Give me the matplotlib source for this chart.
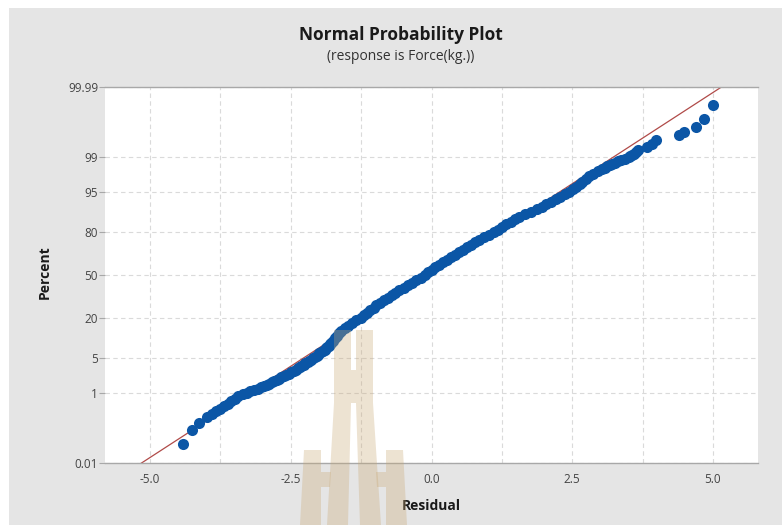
import math
from statistics import NormalDist

import numpy as np
import matplotlib
matplotlib.use("Agg")
import matplotlib.pyplot as plt
from matplotlib.patches import Rectangle, Polygon
from matplotlib.ticker import MultipleLocator, FixedLocator, FixedFormatter

plt.rcParams['font.family'] = ['Open Sans', 'DejaVu Sans']

# residuals and their plotted percent
residual = [
    -4.42, -4.26, -4.13, -3.99, -3.90, -3.82, -3.75, -3.69, -3.62, -3.56,
    -3.49, -3.43, -3.345, -3.28, -3.22, -3.16, -3.09, -3.03, -2.97, -2.93,
    -2.88, -2.84, -2.79, -2.75, -2.71, -2.665, -2.62, -2.58, -2.53, -2.49,
    -2.45, -2.41, -2.38, -2.34, -2.31, -2.27, -2.24, -2.20, -2.17, -2.135,
    -2.10, -2.07, -2.04, -2.015, -1.99, -1.96, -1.93, -1.90, -1.88, -1.85,
    -1.82, -1.80, -1.78, -1.75, -1.715, -1.68, -1.65, -1.60, -1.54, -1.48,
    -1.41, -1.34, -1.26, -1.20, -1.15, -1.09, -1.03, -0.98, -0.92, -0.85,
    -0.78, -0.71, -0.64, -0.57, -0.495, -0.42, -0.345, -0.27, -0.195, -0.12,
    -0.06, 0.00, 0.07, 0.13, 0.20, 0.27, 0.34, 0.41, 0.49, 0.56,
    0.63, 0.70, 0.78, 0.85, 0.94, 1.03, 1.11, 1.18, 1.26, 1.33,
    1.41, 1.48, 1.56, 1.66, 1.77, 1.87, 1.96, 2.04, 2.12, 2.21,
    2.29, 2.37, 2.45, 2.52, 2.575, 2.63, 2.68, 2.74, 2.79, 2.87,
    2.95, 3.03, 3.075, 3.12, 3.17, 3.215, 3.26, 3.31, 3.37, 3.43,
    3.50, 3.53, 3.56, 3.59, 3.63, 3.67, 3.82, 3.92, 3.99, 4.40,
    4.49, 4.69, 4.84, 5.00,
]
percent = [
    0.040, 0.107, 0.169, 0.256, 0.298, 0.347, 0.402, 0.466, 0.539, 0.621,
    0.714, 0.820, 0.939, 1.004, 1.072, 1.147, 1.222, 1.306, 1.390, 1.484,
    1.578, 1.68, 1.786, 1.90, 2.018, 2.146, 2.275, 2.42, 2.56, 2.715,
    2.87, 3.045, 3.22, 3.405, 3.59, 3.80, 4.01, 4.235, 4.46, 4.705,
    4.95, 5.215, 5.48, 5.77, 6.06, 6.37, 6.68, 7.015, 7.35, 7.715,
    8.08, 8.465, 8.85, 9.68, 10.56, 11.51, 12.51, 13.57, 14.69, 15.87,
    17.11, 18.41, 19.77, 21.19, 22.66, 24.20, 25.78, 27.43, 29.12, 30.85,
    32.64, 34.46, 36.32, 38.21, 40.13, 42.07, 44.04, 46.02, 48.01, 50.00,
    51.99, 53.98, 55.96, 57.93, 59.87, 61.79, 63.68, 65.54, 67.36, 69.15,
    70.88, 72.57, 74.22, 75.80, 77.34, 78.81, 80.23, 81.59, 82.89, 84.13,
    85.31, 86.43, 87.49, 88.49, 89.44, 90.32, 91.15, 91.92, 92.65, 93.32,
    93.94, 94.52, 95.05, 95.54, 95.99, 96.41, 96.78, 97.13, 97.44, 97.725,
    97.982, 98.214, 98.318, 98.422, 98.516, 98.610, 98.694, 98.778, 98.853, 98.928,
    98.996, 99.061, 99.12, 99.180, 99.27, 99.33, 99.42, 99.52, 99.632, 99.711,
    99.767, 99.831, 99.896, 99.961,
]

# fitted normal reference line
line_mean = 0.0
line_sigma = 1.385

y_ticks = [0.01, 1, 5, 20, 50, 80, 95, 99, 99.99]
y_ticklabels = ["0.01", "1", "5", "20", "50", "80", "95", "99", "99.99"]
x_ticks = [-5.0, -2.5, 0.0, 2.5, 5.0]

_nd = NormalDist()


def _ppf_one(q):
    if q != q:
        return float("nan")
    return _nd.inv_cdf(min(max(q, 1e-12), 1 - 1e-12))


_ppf = np.vectorize(_ppf_one, otypes=[float])
_cdf = np.vectorize(lambda z: 0.5 * (1 + math.erf(z / math.sqrt(2))), otypes=[float])


def pct_to_z(p):
    return _ppf(np.asarray(p, dtype=float) / 100.0)


def z_to_pct(z):
    return 100.0 * _cdf(np.asarray(z, dtype=float))


W, H = 782, 525
fig = plt.figure(figsize=(W / 100, H / 100), dpi=100)
fig.patch.set_facecolor("white")

# gray panel behind the chart
fig.patches.append(Rectangle((9 / W, 0), 1 - 9 / W, 1 - 8 / H, transform=fig.transFigure,
                             facecolor="#e5e5e5", edgecolor="none", zorder=-10))

ax = fig.add_axes([105 / W, (H - 463) / H, (758 - 105) / W, (463 - 87) / H])
ax.set_facecolor("white")
ax.set_yscale("function", functions=(pct_to_z, z_to_pct))
ax.set_xlim(-5.8, 5.8)
ax.set_ylim(0.01, 99.99)

# reference line
line_x = np.array([-5.8, 5.8])
line_p = z_to_pct((line_x - line_mean) / line_sigma)
ax.plot(line_x, line_p, color="#b04a48", lw=0.9, zorder=2)

# residual points
ax.plot(residual, percent, "o", ms=8, color="#0b56a6", mec="none", zorder=3)

# grid
ax.xaxis.set_major_locator(FixedLocator(x_ticks))
ax.xaxis.set_minor_locator(MultipleLocator(1.25))
ax.yaxis.set_major_locator(FixedLocator(y_ticks))
ax.yaxis.set_major_formatter(FixedFormatter(y_ticklabels))
ax.yaxis.set_minor_locator(FixedLocator([]))
ax.set_xticklabels(["-5.0", "-2.5", "0.0", "2.5", "5.0"])
ax.grid(True, which="both", axis="x", color="#dadada", ls=(0, (4, 3)), lw=0.8, zorder=0)
ax.grid(True, which="major", axis="y", color="#dadada", ls=(0, (4, 3)), lw=0.8, zorder=0)
ax.set_axisbelow(True)

for side in ["left", "right"]:
    ax.spines[side].set_visible(False)
for side in ["top", "bottom"]:
    ax.spines[side].set_color("#a8a8a8")
    ax.spines[side].set_linewidth(1.0)

ax.tick_params(axis="y", length=4, width=0.8, color="#a8a8a8", pad=1,
               labelsize=8.5, labelcolor="#444444")
ax.tick_params(axis="x", which="both", length=0, pad=7, labelsize=8.5, labelcolor="#444444")

fig.text(401 / W, 1 - 35 / H, "Normal Probability Plot", ha="center", va="center",
         fontsize=12.5, fontweight="bold", color="#1a1a1a")
fig.text(401 / W, 1 - 57 / H, "(response is Force(kg.))", ha="center", va="center",
         fontsize=10, color="#333333")
fig.text(45 / W, 1 - 272 / H, "Percent", ha="center", va="center", rotation=90,
         fontsize=10, fontweight="bold", color="#1a1a1a")
fig.text(431 / W, 1 - 506 / H, "Residual", ha="center", va="center",
         fontsize=10, fontweight="bold", color="#1a1a1a")

# faint university watermark over the lower middle
wm = dict(facecolor="#c9a874", edgecolor="none", alpha=0.32, zorder=10)
shapes = [
    [(334, 330), (351, 330), (351, 370), (334, 370)],
    [(356, 330), (373, 330), (373, 370), (356, 370)],
    [(334, 370), (373, 370), (373, 403), (334, 403)],
    [(334, 403), (351, 403), (348, 525), (327, 525)],
    [(356, 403), (373, 403), (381, 525), (360, 525)],
    [(304, 450), (321, 450), (321, 525), (300, 525)],
    [(321, 472), (331, 472), (330, 487), (321, 487)],
    [(386, 450), (403, 450), (407, 525), (386, 525)],
    [(376, 472), (386, 472), (386, 487), (377, 487)],
]
for pts in shapes:
    fig.patches.append(Polygon([(x / W, 1 - y / H) for x, y in pts], closed=True,
                               transform=fig.transFigure, **wm))

fig.savefig("out.png", dpi=100, facecolor=fig.get_facecolor())
